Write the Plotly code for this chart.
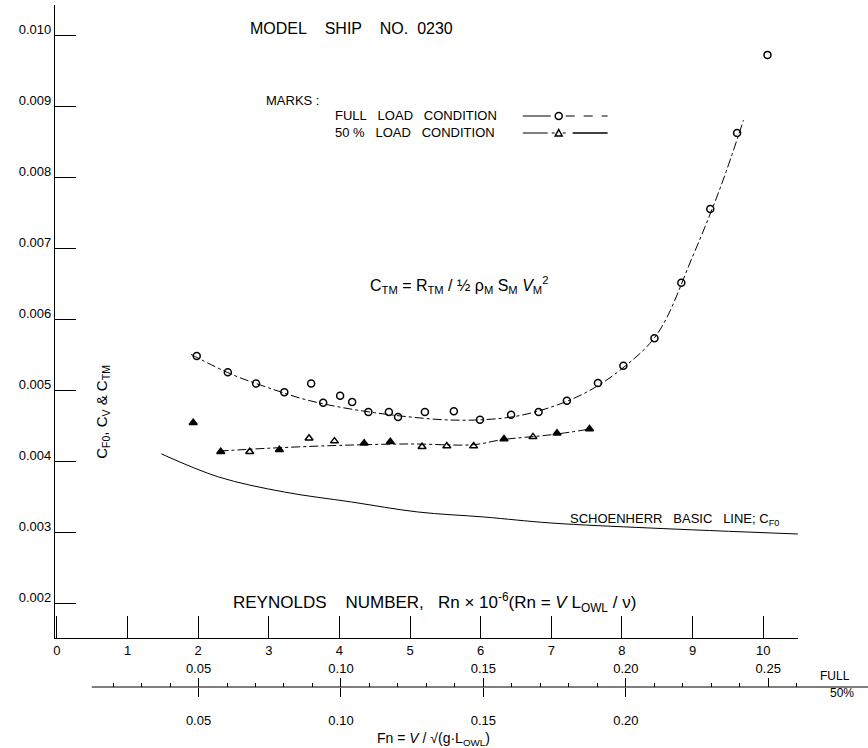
import plotly.graph_objects as go

# ---------------- data ----------------
# Full load condition, C_TM measured points
full_rn = [1.98, 2.42, 2.82, 3.22, 3.60, 3.77, 4.01, 4.18, 4.41, 4.70, 4.83, 5.21, 5.62,
           5.99, 6.43, 6.82, 7.22, 7.66, 8.02, 8.46, 8.84, 9.25, 9.63, 10.06]
full_ctm = [0.00548, 0.00525, 0.00509, 0.00497, 0.00509, 0.00482, 0.00492, 0.00483, 0.00469,
            0.00469, 0.00462, 0.00469, 0.00470, 0.00458, 0.00465, 0.00469, 0.00485, 0.00510,
            0.00534, 0.00573, 0.00651, 0.00755, 0.00862, 0.00972]
# Faired curve through the full load points
full_fit_rn = [1.90, 2.5, 3.0, 3.5, 4.0, 4.5, 5.0, 5.5, 6.0, 6.5, 7.0, 7.5, 8.0, 8.5, 9.0, 9.4, 9.72]
full_fit_c = [0.00550, 0.00521, 0.00503, 0.00487, 0.00476, 0.00468, 0.00462, 0.00458, 0.00458,
              0.00463, 0.00476, 0.00497, 0.00530, 0.00579, 0.00688, 0.00787, 0.00880]

# 50 % load condition, C_TM measured points
half_rn = [1.93, 2.32, 2.73, 3.15, 3.57, 3.93, 4.35, 4.72, 5.17, 5.52, 5.90, 6.33, 6.74, 7.08, 7.54]
half_ctm = [0.00454, 0.00413, 0.00413, 0.00416, 0.00432, 0.00428, 0.00425, 0.00427, 0.00420,
            0.00421, 0.00421, 0.00431, 0.00434, 0.00439, 0.00445]
half_fit_rn = [2.3, 3.0, 4.0, 5.0, 5.9, 6.3, 7.0, 7.55]
half_fit_c = [0.00414, 0.00418, 0.00422, 0.00424, 0.00423, 0.00430, 0.00437, 0.00445]

# Schoenherr basic line C_F0
sch_rn = [1.48, 2.29, 3.22, 4.17, 5.11, 6.05, 6.99, 8.40, 10.49]
sch_cf0 = [0.00410, 0.003775, 0.003563, 0.003423, 0.003282, 0.003211, 0.003127, 0.003056, 0.002972]

# axes ticks
y_ticks = [0.002, 0.003, 0.004, 0.005, 0.006, 0.007, 0.008, 0.009, 0.010]
y_tick_text = ["0.002", "0.003", "0.004", "0.005", "0.006", "0.007", "0.008", "0.009", "0.010"]
rn_ticks = [0, 1, 2, 3, 4, 5, 6, 7, 8, 9, 10]
fn_full_ticks = [0.05, 0.10, 0.15, 0.20, 0.25]
fn_full_text = ["0.05", "0.10", "0.15", "0.20", "0.25"]
fn_half_ticks = [0.05, 0.10, 0.15, 0.20]
fn_half_text = ["0.05", "0.10", "0.15", "0.20"]
fn_minor_ticks = [0.02, 0.03, 0.04, 0.06, 0.07, 0.08, 0.09, 0.11, 0.12, 0.13, 0.14,
                  0.16, 0.17, 0.18, 0.19, 0.21, 0.22, 0.23, 0.24, 0.26]

# marker style (scan shows some triangles filled)
half_filled = [True, True, False, True, False, False, True, True, False, False, False, True, False, True, True]

# ---------------- layout geometry ----------------
W, H = 868, 748
FONT = "Liberation Sans"


def px(x):
    return x / W


def py(y):
    return 1 - y / H


fig = go.Figure()

fig.add_trace(go.Scatter(x=sch_rn, y=sch_cf0, mode="lines", line=dict(color="black", width=1),
                         line_shape="spline", hoverinfo="skip", showlegend=False))
fig.add_trace(go.Scatter(x=full_fit_rn, y=full_fit_c, mode="lines",
                         line=dict(color="black", width=1, dash="dashdot"),
                         line_shape="spline", hoverinfo="skip", showlegend=False))
fig.add_trace(go.Scatter(x=half_fit_rn, y=half_fit_c, mode="lines",
                         line=dict(color="black", width=1, dash="dashdot"),
                         line_shape="spline", hoverinfo="skip", showlegend=False))
fig.add_trace(go.Scatter(x=full_rn, y=full_ctm, mode="markers",
                         marker=dict(symbol="circle-open", size=7, color="black", line=dict(width=1.5)),
                         showlegend=False, name="Full load"))
fig.add_trace(go.Scatter(x=half_rn, y=half_ctm, mode="markers",
                         marker=dict(symbol=["triangle-up" if f else "triangle-up-open" for f in half_filled],
                                     size=7, color="black", line=dict(width=1.5, color="black")),
                         showlegend=False, name="50% load"))
# dummy traces to activate the Froude axes
fig.add_trace(go.Scatter(x=[0.1], y=[0.0001], xaxis="x2", yaxis="y", mode="markers",
                         marker=dict(opacity=0), hoverinfo="skip", showlegend=False))
fig.add_trace(go.Scatter(x=[0.1], y=[0.0001], xaxis="x3", yaxis="y", mode="markers",
                         marker=dict(opacity=0), hoverinfo="skip", showlegend=False))

X0, X1 = 53, 798
x_dom = [px(X0), px(X1)]
y_dom = [py(638), py(5)]
rn_range = [(X0 - 55) / 70.8, (X1 - 55) / 70.8]
y_range = [0.002 - 35 / 71000, 0.002 + 598 / 71000]
# Froude axes overlay the Rn axis (same domain)
fn_range = [0.05 + (X0 - 197) / 142.75 * 0.05, 0.05 + (X1 - 197) / 142.75 * 0.05]
FN_Y = 687
fn_pos = py(FN_Y)

tickfont = dict(family=FONT, size=13, color="black")

fig.update_layout(
    width=W, height=H, margin=dict(l=0, r=0, t=0, b=0),
    paper_bgcolor="white", plot_bgcolor="white",
    font=dict(family=FONT, color="black"),
    xaxis=dict(domain=x_dom, range=rn_range, tickvals=rn_ticks, ticks="inside", ticklen=22,
               tickwidth=1, tickcolor="black", showline=True, linecolor="black", linewidth=1,
               showgrid=False, zeroline=False, tickfont=tickfont, anchor="y"),
    yaxis=dict(domain=y_dom, range=y_range, tickvals=y_ticks, ticktext=y_tick_text,
               ticks="inside", ticklen=21, tickwidth=1, tickcolor="black", showline=True,
               linecolor="black", linewidth=1, showgrid=False, zeroline=False,
               tickfont=tickfont, anchor="x", ticklabelshift=-6),
    xaxis2=dict(range=fn_range, anchor="free", position=fn_pos, overlaying="x",
                side="bottom", tickvals=fn_half_ticks, ticktext=fn_half_text, ticks="outside",
                ticklen=9, tickwidth=1, tickcolor="black", showline=False,
                showgrid=False, zeroline=False, tickfont=tickfont,
                ticklabelstandoff=12),
    xaxis3=dict(range=fn_range, anchor="free", position=fn_pos, overlaying="x",
                side="top", tickvals=fn_full_ticks, ticktext=fn_full_text, ticks="outside",
                ticklen=9, tickwidth=1, tickcolor="black", showline=False,
                showgrid=False, zeroline=False, tickfont=tickfont,
                minor=dict(tickmode="array", tickvals=fn_minor_ticks, ticks="outside",
                           ticklen=4, tickcolor="black")),
)

# the Froude base line (runs past the plot to the FULL / 50% labels)
fig.add_shape(type="line", xref="paper", yref="paper", x0=px(90), x1=px(868),
              y0=fn_pos, y1=fn_pos, line=dict(color="black", width=1))

NB = "\u00a0"


def note(text, x, y, size=14, xanchor="center", yanchor="middle", angle=0):
    fig.add_annotation(text=text, x=px(x), y=py(y), xref="paper", yref="paper", showarrow=False,
                       xanchor=xanchor, yanchor=yanchor, textangle=angle,
                       font=dict(family=FONT, size=size, color="black"))


note(f"MODEL{NB*4}SHIP{NB*4}NO.{NB*2}0230", 350, 28, size=16)
note("MARKS :", 263, 101, size=13, xanchor="left")
note(f"FULL{NB*3}LOAD{NB*3}CONDITION", 332, 116, size=13, xanchor="left")
note(f"50{NB}%{NB*3}LOAD{NB*3}CONDITION", 332, 133, size=13, xanchor="left")
note("C<sub>TM</sub> = R<sub>TM</sub> / ½ ρ<sub>M</sub> S<sub>M</sub> <i>V</i><sub>M</sub><sup>2</sup>",
     458, 285, size=16)
note("C<sub>F0</sub>, C<sub>V</sub> & C<sub>TM</sub>", 100, 412, size=15, angle=-90)
note(f"SCHOENHERR{NB*3}BASIC{NB*3}LINE;{NB}C<sub>F0</sub>", 567, 519, size=13, xanchor="left")
note(f"REYNOLDS{NB*4}NUMBER,{NB*3}Rn × 10<sup>-6</sup>(Rn = <i>V</i> L<sub>OWL</sub> / ν)",
     230, 602, size=17, xanchor="left")
note("FULL", 818, 676, size=12, xanchor="left")
note("50%", 828, 693, size=12, xanchor="left")
note("Fn = <i>V</i> / √(g·L<sub>OWL</sub>)", 432, 739, size=14)

# legend keys
line = dict(color="black", width=1)
fig.add_shape(type="line", xref="paper", yref="paper", x0=px(522), x1=px(550), y0=py(116), y1=py(116), line=line)
fig.add_shape(type="line", xref="paper", yref="paper", x0=px(565), x1=px(607), y0=py(116), y1=py(116),
              line=dict(color="black", width=1, dash="dash"))
fig.add_shape(type="circle", xref="paper", yref="paper", x0=px(554.5), x1=px(561.5), y0=py(112.5), y1=py(119.5),
              line=dict(color="black", width=1.5))
fig.add_shape(type="line", xref="paper", yref="paper", x0=px(522), x1=px(547), y0=py(133), y1=py(133), line=line)
fig.add_shape(type="line", xref="paper", yref="paper", x0=px(551), x1=px(554), y0=py(133), y1=py(133), line=line)
fig.add_shape(type="line", xref="paper", yref="paper", x0=px(562), x1=px(565), y0=py(133), y1=py(133), line=line)
fig.add_shape(type="line", xref="paper", yref="paper", x0=px(572), x1=px(607), y0=py(133), y1=py(133),
              line=dict(color="black", width=1.5))
fig.add_shape(type="path", xref="paper", yref="paper",
              path=f"M {px(554.5)} {py(136)} L {px(561.5)} {py(136)} L {px(558)} {py(129.5)} Z",
              line=dict(color="black", width=1.5))

fig.write_html("out.html")
